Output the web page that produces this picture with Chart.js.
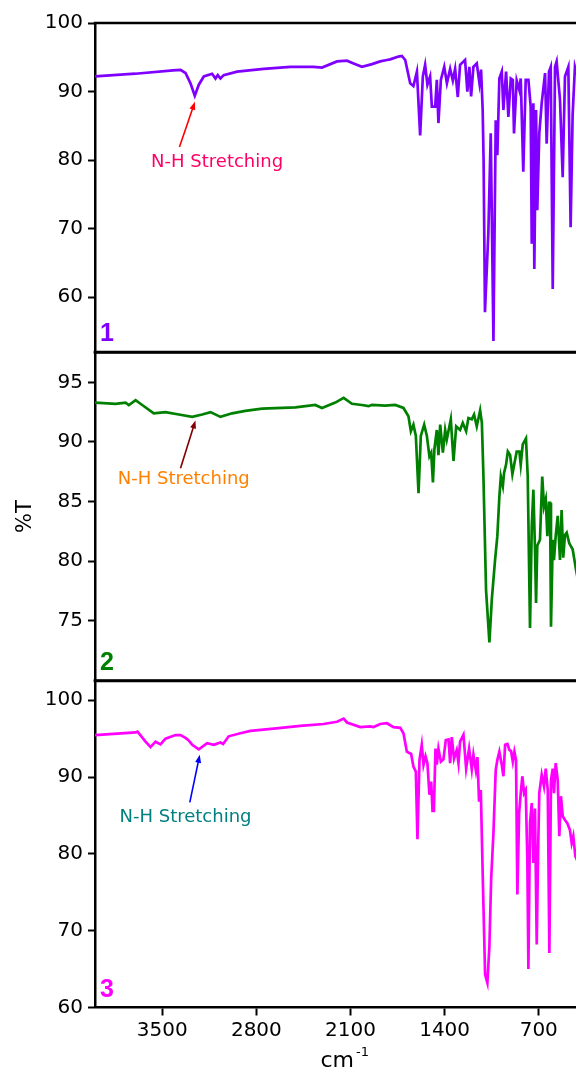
<!DOCTYPE html>
<html>
<head>
<meta charset="utf-8">
<title>FTIR spectra 1-3</title>
<script src="https://cdn.jsdelivr.net/npm/chart.js@4.4.1/dist/chart.umd.min.js"></script>
<style>
  html, body { margin: 0; padding: 0; background: #fff; }
  #wrap { position: relative; width: 576px; height: 1072px; }
  #wrap canvas { position: absolute; left: 0; top: 0; }
</style>
</head>
<body>
<div id="wrap">
  <canvas id="ir1" width="576" height="1072"></canvas>
  <canvas id="ir2" width="576" height="1072"></canvas>
  <canvas id="ir3" width="576" height="1072"></canvas>
</div>
<script>
// wavenumbers (cm-1) and %T
var wn1 = [4000, 3700, 3420, 3364, 3327, 3290, 3258, 3228, 3191, 3129, 3104, 3087, 3067, 3043, 2943, 2746, 2547, 2374, 2312, 2200,
  2126, 2077, 2015, 1940, 1879, 1829, 1805, 1743, 1718, 1693, 1656, 1632, 1606, 1582, 1562, 1545, 1528, 1508, 1495, 1470,
  1458, 1446, 1428, 1403, 1383, 1359, 1339, 1322, 1302, 1285, 1248, 1231, 1216, 1203, 1186, 1161, 1141, 1129, 1117, 1110,
  1100, 1075, 1057, 1037, 1020, 1008, 993, 975, 963, 943, 926, 908, 893, 884, 864, 844, 834, 815, 797, 777,
  760, 752, 740, 733, 720, 711, 696, 678, 653, 641, 624, 611, 596, 579, 567, 542, 522, 505, 480, 463,
  448, 431, 416];
var t1 = [92.2, 92.6, 93.1, 93.15, 92.7, 91.2, 89.4, 91.0, 92.2, 92.6, 91.9, 92.4, 91.9, 92.4, 92.9, 93.3, 93.6, 93.6, 93.5, 94.4,
  94.5, 94.1, 93.6, 94.0, 94.4, 94.6, 94.7, 95.1, 95.2, 94.6, 91.2, 90.8, 92.9, 83.6, 92.2, 93.9, 91.0, 92.2, 87.8, 87.8,
  91.7, 85.4, 91.7, 93.6, 91.2, 93.3, 91.6, 93.3, 89.2, 93.9, 94.6, 90.0, 93.6, 89.3, 93.6, 94.1, 91.2, 93.2, 87.3, 79.7,
  57.8, 69.3, 83.9, 53.6, 85.8, 80.7, 91.9, 92.9, 87.3, 92.9, 86.3, 91.9, 91.7, 83.9, 91.6, 90.2, 91.9, 78.3, 91.7, 91.7,
  87.8, 67.8, 88.3, 64.1, 87.3, 72.7, 83.9, 88.3, 92.7, 82.4, 92.9, 93.6, 61.2, 93.6, 94.4, 88.8, 77.5, 92.2, 93.6, 70.2,
  86.6, 93.6, 92.5];

var wn2 = [4000, 3847, 3773, 3748, 3698, 3649, 3563, 3476, 3377, 3277, 3203, 3141, 3067, 2980, 2882, 2757, 2510, 2362, 2312, 2213,
  2151, 2089, 2015, 1966, 1941, 1842, 1767, 1706, 1669, 1651, 1632, 1614, 1594, 1577, 1552, 1532, 1513, 1500, 1487, 1476,
  1458, 1446, 1433, 1413, 1396, 1384, 1354, 1334, 1314, 1285, 1265, 1240, 1223, 1198, 1181, 1161, 1136, 1123, 1112, 1092,
  1067, 1049, 1025, 1008, 993, 982, 967, 958, 943, 930, 913, 896, 881, 864, 844, 834, 819, 795, 782, 765,
  752, 740, 728, 720, 711, 691, 674, 661, 648, 636, 624, 616, 609, 596, 587, 574, 559, 542, 530, 518,
  505, 492, 473, 448, 423, 410];
var t2 = [93.3, 93.2, 93.3, 93.1, 93.5, 93.1, 92.4, 92.5, 92.3, 92.1, 92.3, 92.5, 92.1, 92.4, 92.6, 92.8, 92.9, 93.1, 92.85, 93.3,
  93.7, 93.2, 93.1, 93.0, 93.1, 93.05, 93.1, 92.85, 92.15, 90.9, 91.45, 90.5, 85.7, 90.5, 91.45, 90.5, 88.8, 89.1, 86.6, 89.4,
  91.0, 88.9, 91.45, 89.1, 91.0, 90.2, 91.9, 88.4, 91.3, 91.0, 91.6, 90.9, 92.0, 91.9, 92.3, 91.3, 92.65, 91.6, 87.4, 77.6,
  73.2, 76.8, 80.1, 82.1, 85.4, 87.1, 86.3, 87.4, 88.1, 89.2, 88.9, 87.3, 88.2, 89.2, 89.2, 88.1, 89.8, 90.3, 87.1, 74.4,
  82.9, 86.0, 81.0, 76.5, 81.3, 81.8, 87.1, 84.6, 85.2, 82.1, 84.9, 84.9, 74.5, 81.8, 80.1, 82.1, 83.8, 80.1, 84.3, 80.3,
  82.2, 82.4, 81.5, 81.0, 79.3, 78.5];

var wn3 = [4000, 3698, 3684, 3624, 3587, 3550, 3513, 3476, 3401, 3364, 3327, 3305, 3277, 3228, 3166, 3117, 3067, 3047, 3006, 2919,
  2844, 2671, 2473, 2300, 2200, 2151, 2126, 2027, 1953, 1929, 1879, 1829, 1780, 1730, 1706, 1681, 1649, 1632, 1614, 1602,
  1587, 1570, 1557, 1542, 1528, 1513, 1500, 1490, 1480, 1468, 1458, 1446, 1428, 1409, 1391, 1371, 1359, 1347, 1330, 1310,
  1297, 1285, 1260, 1240, 1218, 1198, 1186, 1168, 1156, 1144, 1131, 1116, 1099, 1082, 1067, 1054, 1037, 1020, 1008, 993,
  975, 963, 950, 933, 918, 906, 893, 881, 869, 859, 846, 834, 822, 809, 797, 785, 777, 765, 752, 740,
  728, 715, 705, 696, 678, 661, 648, 633, 621, 609, 596, 587, 574, 559, 547, 535, 522, 505, 488, 468,
  455, 443, 428, 410];
var t3 = [95.46, 95.8, 95.9, 94.6, 93.9, 94.6, 94.25, 95.0, 95.46, 95.46, 95.1, 94.8, 94.2, 93.6, 94.4, 94.2, 94.5, 94.3, 95.3, 95.7,
  96.0, 96.3, 96.67, 96.9, 97.2, 97.6, 97.1, 96.5, 96.6, 96.5, 96.9, 97.0, 96.5, 96.4, 95.7, 93.3, 93.0, 91.35, 90.7, 81.9,
  92.2, 94.2, 91.6, 92.7, 91.8, 87.7, 89.4, 85.6, 85.6, 93.7, 91.6, 93.7, 92.0, 92.3, 94.8, 94.9, 91.8, 95.2, 92.4, 93.5,
  91.8, 94.6, 95.5, 91.1, 93.7, 91.0, 92.9, 90.9, 92.6, 86.8, 88.3, 76.7, 64.3, 63.2, 68.0, 76.7, 82.7, 90.9, 92.2, 93.3,
  91.6, 90.1, 94.2, 94.3, 93.5, 93.4, 92.0, 93.3, 92.2, 74.7, 85.3, 87.9, 90.1, 87.9, 88.3, 79.5, 65.0, 84.0, 86.6, 78.8,
  85.9, 68.2, 80.1, 87.9, 90.3, 88.8, 91.1, 88.3, 67.1, 89.6, 91.1, 87.9, 91.8, 89.6, 82.3, 87.5, 84.9, 84.4, 84.0, 83.1,
  81.4, 82.3, 79.7, 79.0];

// tick labels
var xTicks = [3500, 2800, 2100, 1400, 700];
var yTicks1 = [60, 70, 80, 90, 100];
var yTicks2 = [75, 80, 85, 90, 95];
var yTicks3 = [60, 70, 80, 90, 100];

// N-H stretching notes: [wavenumber, %T] for arrow tail, arrow tip, label centre
var note1 = { tail: [3372, 81.9], tip: [3257, 88.5], label: [3092, 79.7] };
var note2 = { tail: [3364, 87.8], tip: [3253, 91.8], label: [3340, 86.9] };
var note3 = { tail: [3295, 86.7], tip: [3221, 92.9], label: [3327, 84.7] };

Chart.defaults.font.family = '"DejaVu Sans", sans-serif';
Chart.defaults.color = '#000';

var panelDeco = {
  id: 'panelDeco',
  afterDatasetsDraw: function(chart, args, o) {
    var ctx = chart.ctx, a = chart.chartArea;
    var xs = chart.scales.x, ys = chart.scales.y;
    ctx.save();
    // frame lines top / bottom
    ctx.strokeStyle = '#000';
    ctx.lineWidth = 2.5;
    ctx.beginPath();
    ctx.moveTo(a.left - 1.25, a.top);
    ctx.lineTo(a.right, a.top);
    if (o.bottomLine) {
      ctx.moveTo(a.left - 1.25, a.bottom);
      ctx.lineTo(a.right, a.bottom);
    }
    ctx.stroke();

    // panel number
    ctx.fillStyle = o.color;
    ctx.font = 'bold 25px "Liberation Sans", Arial, sans-serif';
    ctx.textAlign = 'left';
    ctx.textBaseline = 'alphabetic';
    ctx.fillText(o.num, a.left + 5, a.bottom - 11);

    // arrow
    var n = o.note;
    var x0 = xs.getPixelForValue(n.tail[0]), y0 = ys.getPixelForValue(n.tail[1]);
    var x1 = xs.getPixelForValue(n.tip[0]), y1 = ys.getPixelForValue(n.tip[1]);
    var ang = Math.atan2(y1 - y0, x1 - x0);
    var c = Math.cos(ang), s = Math.sin(ang);
    ctx.strokeStyle = o.arrowColor;
    ctx.fillStyle = o.arrowColor;
    ctx.lineWidth = 1.6;
    ctx.beginPath();
    ctx.moveTo(x0, y0);
    ctx.lineTo(x1 - 6 * c, y1 - 6 * s);
    ctx.stroke();
    ctx.beginPath();
    ctx.moveTo(x1, y1);
    ctx.lineTo(x1 - 8 * c + 3 * s, y1 - 8 * s - 3 * c);
    ctx.lineTo(x1 - 8 * c - 3 * s, y1 - 8 * s + 3 * c);
    ctx.closePath();
    ctx.fill();

    // label
    ctx.fillStyle = o.textColor;
    ctx.font = '18px "DejaVu Sans", sans-serif';
    ctx.textAlign = 'center';
    ctx.textBaseline = 'middle';
    ctx.fillText('N-H Stretching', xs.getPixelForValue(n.label[0]), ys.getPixelForValue(n.label[1]));

    // x axis title cm-1
    if (o.xTitle) {
      var cx = (a.left + a.right) / 2 + 10;
      ctx.fillStyle = '#000';
      ctx.textAlign = 'left';
      ctx.textBaseline = 'alphabetic';
      ctx.font = '22px "DejaVu Sans", sans-serif';
      var w = ctx.measureText('cm').width;
      ctx.fillText('cm', cx - 25, 1067);
      ctx.font = '13px "DejaVu Sans", sans-serif';
      ctx.fillText('-1', cx - 25 + w + 2, 1056);
    }
    ctx.restore();
  }
};

function makePanel(id, wn, t, color, yMin, yMax, yTicks, top, bottom, deco, isLast, yTitle) {
  var pts = wn.map(function(w, i) { return { x: w, y: t[i] }; });
  return new Chart(document.getElementById(id).getContext('2d'), {
    type: 'line',
    data: {
      datasets: [{
        data: pts,
        borderColor: color,
        borderWidth: 2.7,
        pointRadius: 0,
        tension: 0,
        fill: false
      }]
    },
    options: {
      responsive: false,
      animation: false,
      events: [],
      layout: { padding: { top: top, bottom: isLast ? 0 : 1072 - bottom, left: 0, right: 0 } },
      plugins: {
        legend: { display: false },
        tooltip: { enabled: false },
        panelDeco: deco
      },
      scales: {
        x: {
          type: 'linear',
          reverse: true,
          min: 423,
          max: 4000,
          display: isLast,
          afterFit: function(s) { s.height = isLast ? 1072 - bottom : 0; },
          afterBuildTicks: function(s) { s.ticks = xTicks.map(function(v) { return { value: v }; }); },
          grid: { drawOnChartArea: false, drawTicks: true, tickLength: 8, tickWidth: 2, tickColor: '#000' },
          border: { display: true, color: '#000', width: 2.5 },
          ticks: {
            padding: 3,
            maxRotation: 0,
            autoSkip: false,
            font: { size: 20 },
            callback: function(v) { return String(v); }
          }
        },
        y: {
          min: yMin,
          max: yMax,
          afterFit: function(s) { s.width = 95; },
          afterBuildTicks: function(s) { s.ticks = yTicks.map(function(v) { return { value: v }; }); },
          grid: { drawOnChartArea: false, drawTicks: true, tickLength: 7, tickWidth: 2, tickColor: '#000' },
          border: { display: true, color: '#000', width: 2.5 },
          ticks: { padding: 5, font: { size: 20 }, callback: function(v) { return String(v); } },
          title: {
            display: !!yTitle,
            text: yTitle || '',
            font: { size: 21 },
            padding: { top: 13, bottom: 0 }
          }
        }
      }
    },
    plugins: [panelDeco]
  });
}

document.addEventListener('DOMContentLoaded', function() {
  makePanel('ir1', wn1, t1, '#8000FF', 52, 100, yTicks1, 23, 352,
    { num: '1', color: '#8000FF', note: note1, arrowColor: '#FF0000', textColor: '#FF0066', bottomLine: true }, false);
  makePanel('ir2', wn2, t2, '#008000', 70, 97.5, yTicks2, 352.5, 680.5,
    { num: '2', color: '#008000', note: note2, arrowColor: '#800000', textColor: '#FF8000', bottomLine: true }, false, '%T');
  makePanel('ir3', wn3, t3, '#FF00FF', 60, 102.5, yTicks3, 681, 1007.5,
    { num: '3', color: '#FF00FF', note: note3, arrowColor: '#0000FF', textColor: '#008080', xTitle: true }, true);
});
</script>
</body>
</html>
